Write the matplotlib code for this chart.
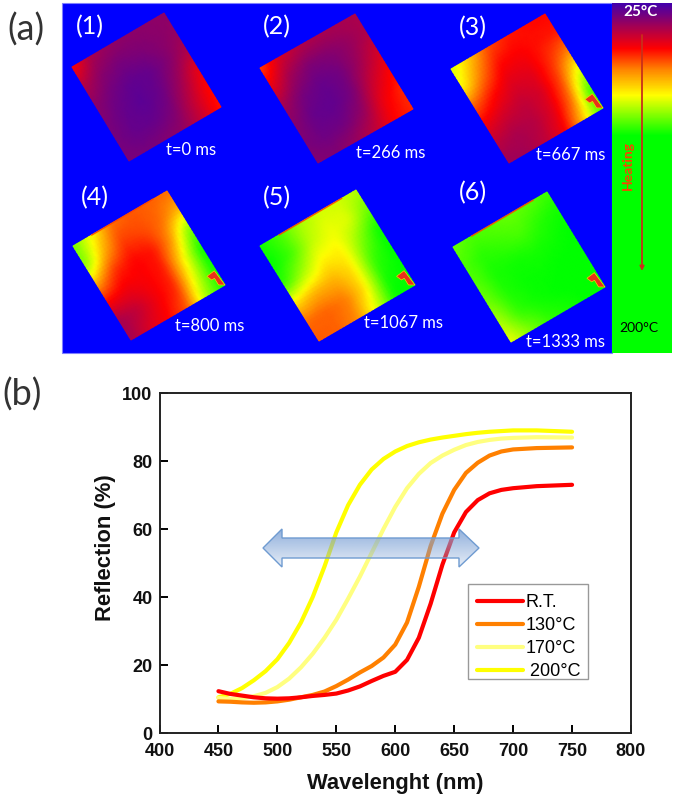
import numpy as np
import matplotlib
matplotlib.use('Agg')
import matplotlib.pyplot as plt
from matplotlib.colors import LinearSegmentedColormap
from matplotlib.patches import Polygon, Rectangle

wavelength = [450, 460, 470, 480, 490, 500, 510, 520, 530, 540, 550, 560, 570, 580, 590, 600, 610, 620, 630, 640, 650, 660, 670, 680, 690, 700, 720, 750]
refl_rt = [12.3, 11.5, 11, 10.5, 10.2, 10.1, 10.2, 10.5, 10.9, 11.2, 11.6, 12.5, 13.7, 15.3, 16.8, 18, 21.5, 28, 38, 49.5, 59, 65, 68.5, 70.5, 71.5, 72, 72.6, 73]
refl_130 = [9.3, 9.2, 9, 8.9, 9, 9.3, 9.8, 10.5, 11.2, 12.2, 13.8, 15.7, 17.8, 19.7, 22.2, 26, 32.5, 43, 55, 64.5, 71.5, 76.5, 79.5, 81.6, 82.8, 83.4, 83.8, 84]
refl_170 = [10.3, 10, 10.2, 10.8, 11.8, 13.5, 16, 19.3, 23.3, 28, 33.3, 39.5, 46, 53, 60, 66.5, 72, 76.2, 79.4, 81.6, 83.3, 84.7, 85.6, 86.2, 86.6, 86.8, 87, 86.9]
refl_200 = [10.5, 11.5, 13.2, 15.5, 18.2, 21.7, 26.5, 32.5, 40, 49, 59, 67, 73, 77.5, 80.6, 82.8, 84.4, 85.5, 86.3, 86.9, 87.4, 87.9, 88.3, 88.6, 88.8, 89, 89, 88.6]

# thermal frames, 0 = 25C end of the scale, 1 = 200C end
frame1 = [[.34, .18, .14, .13, .13, .13], [.20, .12, .09, .10, .12, .14], [.13, .08, .05, .06, .11, .19],
          [.10, .06, .04, .07, .16, .30], [.09, .06, .06, .10, .22, .34], [.10, .09, .11, .14, .24, .36]]
frame2 = [[.42, .26, .20, .18, .18, .18], [.30, .16, .10, .11, .14, .19], [.17, .09, .06, .08, .16, .26],
          [.12, .06, .05, .09, .23, .33], [.10, .07, .08, .14, .30, .38], [.11, .11, .15, .22, .33, .38]]
frame3 = [[.72, .58, .42, .36, .34, .33], [.66, .48, .33, .32, .35, .36], [.45, .34, .27, .28, .38, .50],
          [.30, .25, .22, .26, .42, .72], [.21, .18, .20, .28, .48, .95], [.15, .17, .22, .32, .60, .95]]
frame4 = [[.85, .66, .47, .44, .45, .46], [.84, .56, .40, .42, .46, .56], [.56, .38, .33, .35, .52, .85],
          [.33, .30, .32, .36, .64, 1], [.17, .22, .31, .38, .70, 1], [.17, .27, .33, .44, .78, 1]]
frame5 = [[.98, .90, .78, .72, .72, .76], [1, .92, .75, .68, .70, .86], [.95, .78, .64, .64, .82, 1],
          [.62, .56, .55, .62, .92, 1], [.46, .45, .48, .62, .97, 1], [.44, .45, .50, .70, 1, 1]]
frame6 = [[.86, .90, .88, .86, .88, .92], [.90, .95, .92, .90, .95, .98], [.88, .97, .98, .97, .98, 1],
          [.84, .96, .99, .99, 1, 1], [.76, .93, .98, 1, 1, 1], [.68, .82, .93, .97, 1, 1]]

scale_colors = ['#4400aa', '#ff0000', '#ff8800', '#ffff00', '#00ff00']
scale_stops = [0, .33, .5, .66, 1]
bar_rows = [3, 48, 70, 95, 135, 353]
bar_values = [0, .33, .5, .66, 1, 1]

series = [
    (refl_200, '#ffff00', ' 200°C'),
    (refl_170, '#ffff80', '170°C'),
    (refl_130, '#ff8000', '130°C'),
    (refl_rt, '#ff0000', 'R.T.'),
]

W, H = 675, 799
fig = plt.figure(figsize=(W / 100, H / 100), dpi=100)

# chart (b)
ax = fig.add_axes([159.5 / W, 1 - 733 / H, 471.5 / W, 340 / H])
for y, c, lab in series:
    ax.plot(wavelength, y, color=c, lw=3.0, label=lab, solid_capstyle='round', solid_joinstyle='round')
ax.set_xlim(400, 800)
ax.set_ylim(0, 100)
ax.set_xticks(range(400, 801, 50))
ax.set_yticks(range(0, 101, 20))
for lab in ax.get_xticklabels() + ax.get_yticklabels():
    lab.set_fontfamily('Liberation Sans')
    lab.set_fontweight('bold')
    lab.set_fontsize(13)
    lab.set_color('#111111')
ax.tick_params(axis='x', direction='in', length=5.5, width=1.4, pad=7)
ax.tick_params(axis='y', direction='in', length=5.5, width=1.4, pad=5)
for s in ax.spines.values():
    s.set_linewidth(1.4)
    s.set_color('#222222')
ax.set_xlabel('Wavelenght (nm)', family='Liberation Sans', weight='bold', fontsize=15.8, color='#111111', va='center')
ax.set_ylabel('Reflection (%)', family='Liberation Sans', weight='bold', fontsize=15.8, color='#111111', va='center')
ax.xaxis.set_label_coords(0.4995, (733 - 783) / 340)
ax.yaxis.set_label_coords((105 - 159.5) / 471.5, (733 - 547.5) / 340)

handles, labels = ax.get_legend_handles_labels()
ax.add_patch(Rectangle(((468 - 159.5) / 471.5, (733 - 679) / 340), 120 / 471.5, 95 / 340, transform=ax.transAxes,
                       fc='white', ec='#999999', lw=1, zorder=3))
leg = ax.legend(handles[::-1], labels[::-1], loc='upper left', bbox_to_anchor=((476.5 - 159.5) / 471.5, (733 - 594) / 340),
                prop={'family': 'Liberation Sans', 'size': 13}, frameon=False, borderpad=0, labelspacing=0.33,
                handlelength=2.55, handletextpad=0.15, borderaxespad=0)
leg.set_zorder(4)

# overlay in image pixels for panel (a) and the arrow
ov = fig.add_axes([0, 0, 1, 1])
ov.set_xlim(0, W)
ov.set_ylim(H, 0)
ov.axis('off')
ov.patch.set_alpha(0)

cmap = LinearSegmentedColormap.from_list('thermal', list(zip(scale_stops, scale_colors)))
ov.add_patch(Rectangle((62, 2.5), 550, 350.5, fc='#0000ff', ec='#7f7fff', lw=0.8))


def smooth(grid, k=6):
    # blow the coarse readings up and soften them so no grid shows
    g = np.array(grid)
    n = g.shape[0]
    pos = np.arange(n)
    fine = np.linspace(0, n - 1, (n - 1) * k + 1)
    g = np.array([np.interp(fine, pos, row) for row in g])
    g = np.array([np.interp(fine, pos, col) for col in g.T]).T
    for _ in range(3):
        p = np.pad(g, 1, mode='edge')
        g = (p[:-2, 1:-1] + p[2:, 1:-1] + p[1:-1, :-2] + p[1:-1, 2:] + p[1:-1, 1:-1]) / 5
    return g


def frame(grid, left, top, bottom, spot=False, edge=None):
    g = smooth(grid)
    n = g.shape[0]
    u, v = np.meshgrid(np.linspace(0, 1, n), np.linspace(0, 1, n))
    left, top, bottom = np.array(left), np.array(top), np.array(bottom)
    xs = left[0] + u * (top[0] - left[0]) + v * (bottom[0] - left[0])
    ys = left[1] + u * (top[1] - left[1]) + v * (bottom[1] - left[1])
    ov.pcolormesh(xs, ys, g, cmap=cmap, vmin=0, vmax=1, shading='gouraud')

    def uv(a, b):
        return left + a * (top - left) + b * (bottom - left)
    if edge:
        p0, p1 = uv(0.2, 0), uv(.85, 0)
        ov.plot([p0[0], p1[0]], [p0[1], p1[1]], color=edge, lw=1.0, alpha=0.9)
    if spot:
        ov.add_patch(Polygon([uv(1, 1), uv(.985, .84), uv(.90, .85), uv(.92, .90), uv(.95, .90), uv(.95, .97)],
                             fc='#e8301c', ec='#ffcc00', lw=0.5))


frame(frame1, (72, 67), (164, 13), (129, 161))
frame(frame2, (260, 68), (355, 14), (318, 163))
frame(frame3, (451, 69), (545, 14), (509, 163), spot=True)
frame(frame4, (73, 246), (167, 191), (131, 340), spot=True, edge='#ff4400')
frame(frame5, (260, 246), (356, 190), (319, 341), spot=True, edge='#ff4400')
frame(frame6, (453, 247), (547, 192), (511, 342), spot=True, edge='#ff4400')

# temperature bar
rows = np.arange(3, 354, 1.0)
vals = np.interp(rows, bar_rows, bar_values)
ov.pcolormesh([612, 671.5], rows, vals[:-1, None], cmap=cmap, vmin=0, vmax=1, shading='flat')
ov.annotate('', xy=(642, 271), xytext=(642, 35), arrowprops=dict(arrowstyle='-|>,head_width=0.12,head_length=0.25', color='#c8301a', lw=1.3, shrinkA=0, shrinkB=0))
ov.text(628, 166, 'Heating', rotation=90, color='#ff4000', family='Lato', weight='bold', fontsize=10, ha='center', va='center')
ov.text(640, 12, '25°C', color='white', family='Lato', weight='bold', fontsize=11, ha='center', va='center')
ov.text(639, 328, '200°C', color='black', family='Lato', fontsize=10, ha='center', va='center')

for lab, x, y in [('(1)', 90, 27), ('(2)', 277, 27), ('(3)', 473, 28), ('(4)', 95, 198), ('(5)', 277, 198), ('(6)', 473, 193)]:
    ov.text(x, y, lab, color='white', family='Lato', fontsize=18, ha='center', va='center')
for lab, x, y in [('t=0 ms', 191, 150), ('t=266 ms', 391, 153), ('t=667 ms', 571, 155), ('t=800 ms', 210, 326), ('t=1067 ms', 404, 323), ('t=1333 ms', 566, 342)]:
    ov.text(x, y, lab, color='white', family='Lato', fontsize=12, ha='center', va='center')
ov.text(26, 30, '(a)', color='#333333', family='Lato', fontsize=26, ha='center', va='center')
ov.text(22, 395, '(b)', color='#333333', family='Lato', fontsize=26, ha='center', va='center')

# double arrow over the curves
pts = [(263, 548), (282, 529), (282, 538), (459, 538), (459, 529), (479, 548), (459, 567), (459, 558), (282, 558), (282, 567)]
grad = np.zeros((40, 2, 4))
grad[:, :, :3] = matplotlib.colors.to_rgb('#7fa3d6')
grad[:, :, 3] = np.linspace(0.85, 0.2, 40)[:, None]
im = ov.imshow(grad, extent=(263, 479, 567, 529), aspect='auto', interpolation='bilinear', zorder=5)
poly = Polygon(pts, fc='none', ec='#6f9bd1', lw=1.0, zorder=6)
ov.add_patch(poly)
im.set_clip_path(poly)
ov.set_xlim(0, W)
ov.set_ylim(H, 0)

fig.savefig('out.png', dpi=100)
